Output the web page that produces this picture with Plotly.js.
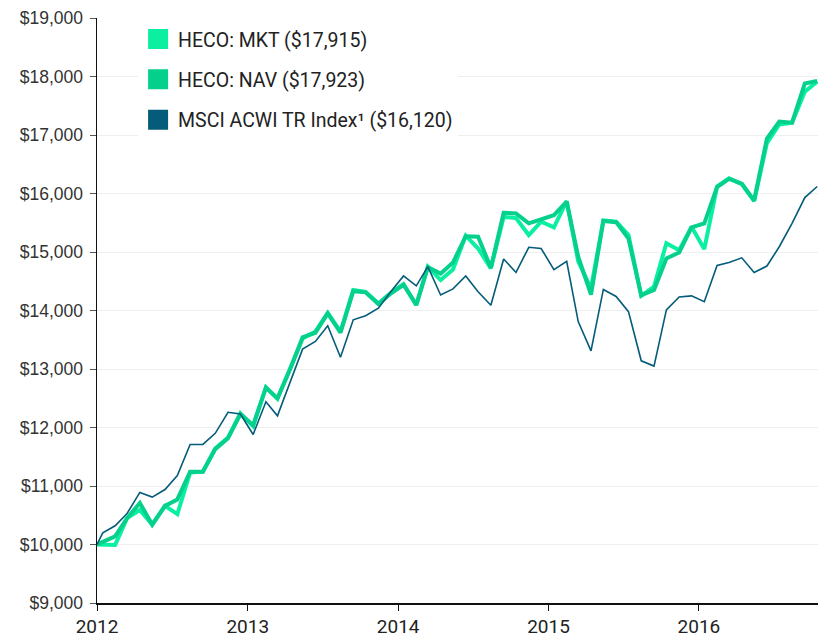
<!DOCTYPE html>
<html>
<head>
<meta charset="utf-8">
<script src="https://cdn.plot.ly/plotly-3.0.1.min.js"></script>
<style>html,body{margin:0;padding:0;background:#fff;}#chart{width:826px;height:637px;}</style>
</head>
<body>
<div id="chart"></div>
<script>
// Dates of observations (start value, then monthly)
const dates = ["2012-01-01",
 "2012-02-14","2012-03-14","2012-04-14","2012-05-14","2012-06-14","2012-07-14","2012-08-14","2012-09-14","2012-10-14","2012-11-14","2012-12-14",
 "2013-01-14","2013-02-14","2013-03-14","2013-04-14","2013-05-14","2013-06-14","2013-07-14","2013-08-14","2013-09-14","2013-10-14","2013-11-14","2013-12-14",
 "2014-01-14","2014-02-14","2014-03-14","2014-04-14","2014-05-14","2014-06-14","2014-07-14","2014-08-14","2014-09-14","2014-10-14","2014-11-14","2014-12-14",
 "2015-01-14","2015-02-14","2015-03-14","2015-04-14","2015-05-14","2015-06-14","2015-07-14","2015-08-14","2015-09-14","2015-10-14","2015-11-14","2015-12-14",
 "2016-01-14","2016-02-14","2016-03-14","2016-04-14","2016-05-14","2016-06-14","2016-07-14","2016-08-14","2016-09-14","2016-10-14"];

const msciDates = ["2012-01-01","2012-01-15",
 "2012-02-14","2012-03-14","2012-04-14","2012-05-14","2012-06-14","2012-07-14","2012-08-14","2012-09-14","2012-10-14","2012-11-14","2012-12-14",
 "2013-01-14","2013-02-14","2013-03-14","2013-04-14","2013-05-14","2013-06-14","2013-07-14","2013-08-14","2013-09-14","2013-10-14","2013-11-14","2013-12-14",
 "2014-01-14","2014-02-14","2014-03-14","2014-04-14","2014-05-14","2014-06-14","2014-07-14","2014-08-14","2014-09-14","2014-10-14","2014-11-14","2014-12-14",
 "2015-01-14","2015-02-14","2015-03-14","2015-04-14","2015-05-14","2015-06-14","2015-07-14","2015-08-14","2015-09-14","2015-10-14","2015-11-14","2015-12-14",
 "2016-01-14","2016-02-14","2016-03-14","2016-04-14","2016-05-14","2016-06-14","2016-07-14","2016-08-14","2016-09-14","2016-10-14"];

const hecoMkt = [10000,
 9990,10450,10590,10340,10660,10520,11230,11245,11640,11830,12240,
 12020,12690,12490,13010,13520,13640,13960,13640,14350,14320,14120,
 14300,14450,14090,14750,14520,14700,15280,15060,14720,15600,15580,
 15290,15520,15420,15870,14840,14380,15540,15520,15290,14250,14410,
 15150,15030,15430,15050,16120,16260,16160,15870,16860,17180,17210,
 17740,17915];

const hecoNav = [10000,
 10140,10450,10710,10340,10660,10770,11245,11245,11630,11815,12230,
 12040,12680,12500,13000,13540,13620,13950,13620,14330,14310,14110,
 14290,14440,14100,14740,14630,14820,15270,15260,14730,15670,15660,
 15490,15560,15630,15860,14920,14270,15530,15510,15230,14260,14350,
 14890,14990,15420,15490,16110,16250,16170,15880,16940,17230,17210,
 17880,17923];

const msci = [10000,10200,
 10320,10530,10890,10810,10940,11180,11710,11710,11900,12260,12230,
 11880,12440,12200,12780,13340,13470,13740,13200,13840,13910,14040,
 14320,14590,14420,14750,14265,14370,14590,14320,14090,14880,14650,
 15080,15060,14700,14840,13810,13310,14360,14240,13980,13140,13050,
 14010,14230,14250,14150,14770,14820,14900,14650,14760,15090,15490,
 15930,16120];

const seriesNames = ["HECO: MKT ($17,915)","HECO: NAV ($17,923)","MSCI ACWI TR Index¹ ($16,120)"];
const seriesColors = ["#0AF0A0","#05D08C","#045B7A"];

const traces = [
  {x: dates, y: hecoMkt, type:'scatter', mode:'lines', line:{color:seriesColors[0], width:4}, showlegend:false, hoverinfo:'skip'},
  {x: dates, y: hecoNav, type:'scatter', mode:'lines', line:{color:seriesColors[1], width:4}, showlegend:false, hoverinfo:'skip'},
  {x: msciDates, y: msci, type:'scatter', mode:'lines', line:{color:seriesColors[2], width:1.6}, showlegend:false, hoverinfo:'skip'}
];
seriesNames.forEach((n,i)=>{
  traces.push({x:[null], y:[null], type:'scatter', mode:'markers', name:n, legendgroup:'g'+i,
    marker:{symbol:'square', size:16, color:seriesColors[i], line:{color:seriesColors[i], width:4}}, showlegend:true});
});

const layout = {
  width: 826, height: 637,
  margin: {l:97, r:8, t:18, b:34},
  paper_bgcolor:'#ffffff', plot_bgcolor:'#ffffff',
  showlegend: true,
  legend: {x:0.057, y:0.997, xanchor:'left', yanchor:'top', bgcolor:'rgba(255,255,255,1)',
    font:{family:'Roboto', size:19.5, color:'#222'}, traceorder:'grouped', tracegroupgap:12,
    itemsizing:'trace'},
  xaxis: {type:'date', range:['2012-01-01','2016-10-16'], tick0:'2012-01-01', dtick:'M12', tickformat:'%Y',
    showgrid:false, zeroline:false, showline:true, linecolor:'#111', linewidth:1.5,
    ticks:'outside', ticklen:6, tickcolor:'#111', tickwidth:1,
    tickfont:{family:'Roboto', size:19, color:'#222'}},
  yaxis: {range:[9000,19000], dtick:1000, tickprefix:'$', tickformat:',d',
    showgrid:true, gridcolor:'#efefef', gridwidth:1, zeroline:false,
    showline:true, linecolor:'#111', linewidth:1.5,
    ticks:'outside', ticklen:6, tickcolor:'#555', tickwidth:1, ticklabelstandoff:3,
    tickfont:{family:'Liberation Sans', size:17.5, color:'#333'}}
};

Plotly.newPlot('chart', traces, layout, {displayModeBar:false, staticPlot:true});
</script>
</body>
</html>
